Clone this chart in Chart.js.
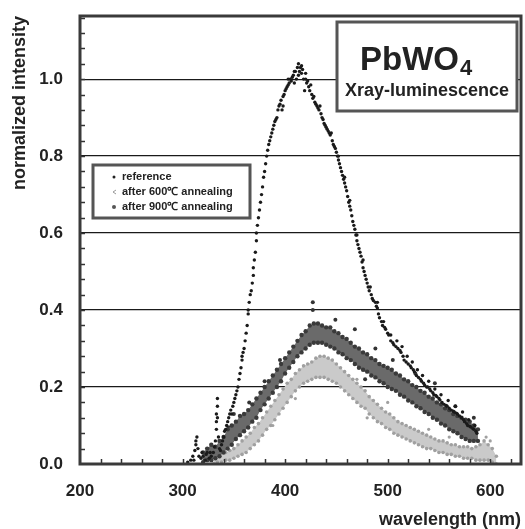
<!DOCTYPE html>
<html>
<head>
<meta charset="utf-8">
<script src="https://cdn.jsdelivr.net/npm/chart.js@4.4.1/dist/chart.umd.min.js"></script>
<style>
html, body { margin: 0; padding: 0; background: #fff; }
</style>
</head>
<body>
<canvas id="chart" width="525" height="529"></canvas>
<script>
const FONT = '"Liberation Sans", Arial, sans-serif';

const seriesLabels = ['reference', 'after 600\u2103 annealing', 'after 900\u2103 annealing'];
const xTickValues = [200, 300, 400, 500, 600];
const yTickValues = [0.0, 0.2, 0.4, 0.6, 0.8, 1.0];

// reference sample, read point by point [nm, intensity]
const refPoints = [
    [305,0.005],[308,0.01],[310,0.02],[311,0.01],[312,0.035],[313,0.06],[313,0.05],[314,0.07],[315,0.04],[316,0.02],
    [318,0.015],[319,0.03],[320,0.02],[322,0.01],[323,0.025],[324,0.03],[326,0.015],[327,0.03],[328,0.02],[330,0.03],
    [331,0.045],[332,0.06],[333,0.09],[333,0.11],[333,0.13],[334,0.15],[334,0.17],[334,0.12],[335,0.07],[336,0.04],
    [337,0.035],[338,0.05],[339,0.06],[340,0.07],[341,0.085],[342,0.09],[343,0.10],[344,0.11],[345,0.12],[346,0.13],
    [347,0.14],[348,0.13],[349,0.15],[350,0.16],[351,0.17],[352,0.18],[353,0.19],[354,0.20],[355,0.22],[356,0.235],
    [357,0.25],[358,0.27],[358,0.28],[359,0.29],[360,0.30],[361,0.32],[362,0.34],[363,0.36],[364,0.39],[364,0.40],
    [365,0.42],[366,0.44],[367,0.45],[368,0.47],[369,0.49],[369,0.51],[370,0.53],[371,0.55],[372,0.58],[372,0.60],
    [373,0.62],[374,0.64],[375,0.66],[376,0.68],[377,0.70],[378,0.72],[379,0.745],[380,0.76],[381,0.78],[382,0.80],
    [383,0.815],[384,0.83],[385,0.84],[386,0.85],[387,0.86],[388,0.87],[389,0.88],[390,0.89],[391,0.895],[392,0.90],
    [393,0.92],[394,0.93],[395,0.935],[396,0.945],[397,0.92],[398,0.955],[399,0.96],[400,0.97],[401,0.975],[402,0.98],
    [403,0.985],[404,0.99],[405,1.0],[406,0.995],[407,1.005],[408,1.01],[409,0.99],[410,1.02],[411,1.0],[412,1.03],
    [413,1.04],[413,1.01],[414,1.02],[415,1.03],[416,1.015],[417,1.025],[418,1.0],[419,0.97],[420,1.0],[421,0.99],
    [422,0.995],[423,0.98],[424,0.97],[425,0.985],[426,0.96],[427,0.95],[428,0.955],[429,0.94],[430,0.935],[431,0.93],
    [432,0.925],[433,0.92],[434,0.93],[435,0.91],[436,0.90],[437,0.895],[438,0.885],[439,0.88],[440,0.875],[441,0.87],
    [442,0.865],[443,0.86],[444,0.855],[445,0.86],[446,0.84],[447,0.83],[448,0.825],[449,0.82],[450,0.81],[451,0.80],
    [452,0.79],[453,0.78],[454,0.77],[455,0.76],[456,0.75],[457,0.74],[458,0.73],[459,0.72],[460,0.71],[461,0.695],
    [462,0.68],[463,0.67],[464,0.66],[465,0.645],[466,0.63],[467,0.62],[468,0.61],[469,0.595],[470,0.58],[471,0.57],
    [472,0.56],[473,0.55],[474,0.54],[475,0.525],[476,0.51],[477,0.50],[478,0.49],[479,0.48],[480,0.47],[481,0.46],
    [482,0.45],[484,0.44],[485,0.43],[486,0.425],[488,0.42],[489,0.41],[490,0.405],[491,0.39],[492,0.38],[494,0.37],
    [495,0.36],[497,0.355],[498,0.35],[500,0.34],[501,0.335],[503,0.32],[505,0.315],[506,0.31],[508,0.305],[510,0.30],
    [512,0.295],[513,0.29],[515,0.28],[516,0.27],[518,0.265],[520,0.26],[522,0.255],[523,0.25],[525,0.245],[526,0.24],
    [528,0.23],[530,0.225],[532,0.22],[533,0.215],[535,0.21],[536,0.205],[538,0.20],[539,0.20],[541,0.195],[542,0.19],
    [544,0.185],[545,0.18],[547,0.178],[548,0.175],[550,0.17],[551,0.166],[553,0.16],[555,0.155],[557,0.152],[558,0.15],
    [560,0.145],[562,0.14],[564,0.137],[565,0.135],[567,0.132],[568,0.13],[570,0.125],[572,0.12],[574,0.115],[575,0.11],
    [577,0.105],[578,0.10],[580,0.098],[581,0.096],[583,0.092],[584,0.09],[586,0.085],[587,0.08],
    // scatter around the falling edge
    [452,0.80],[458,0.745],[463,0.685],[470,0.595],[476,0.53],[483,0.46],[490,0.42],[496,0.37],[503,0.335],[509,0.32],
    [514,0.305],[519,0.28],[524,0.265],[529,0.245],[534,0.23],[540,0.215],[546,0.195],[552,0.18],[559,0.165],[566,0.15],
    [573,0.135],[579,0.115],[585,0.10],[420,1.015],[416,1.035],[409,1.02],[403,1.0],[398,0.93]
];

// after 900C: dense band, lower and upper edge read every 4 nm
const band900Nm = [320,324,328,332,336,340,344,348,352,356,360,364,368,372,376,380,384,388,392,396,
    400,404,408,412,416,420,424,428,432,436,440,444,448,452,456,460,464,468,472,476,
    480,484,488,492,496,500,504,508,512,516,520,524,528,532,536,540,544,548,552,556,
    560,564,568,572,576,580,584,588];
const band900Low = [0.005,0.01,0.01,0.015,0.02,0.03,0.04,0.05,0.065,0.075,
    0.085,0.095,0.11,0.12,0.14,0.155,0.17,0.185,0.20,0.215,
    0.235,0.25,0.265,0.28,0.29,0.30,0.31,0.315,0.315,0.315,
    0.31,0.305,0.30,0.29,0.285,0.275,0.27,0.26,0.25,0.245,
    0.24,0.23,0.225,0.215,0.21,0.20,0.195,0.19,0.18,0.175,
    0.165,0.16,0.15,0.145,0.135,0.13,0.12,0.115,0.105,0.10,
    0.09,0.085,0.08,0.07,0.065,0.06,0.06,0.06];
const band900High = [0.03,0.04,0.05,0.045,0.06,0.07,0.09,0.10,0.11,0.125,
    0.13,0.14,0.155,0.17,0.185,0.20,0.215,0.23,0.245,0.26,
    0.275,0.29,0.305,0.32,0.335,0.345,0.36,0.365,0.365,0.36,
    0.355,0.355,0.345,0.34,0.33,0.325,0.315,0.305,0.30,0.29,
    0.285,0.275,0.27,0.26,0.255,0.25,0.245,0.235,0.23,0.22,
    0.215,0.205,0.20,0.19,0.185,0.175,0.17,0.16,0.155,0.145,
    0.14,0.13,0.125,0.12,0.115,0.11,0.10,0.09];
const spots900 = [[427,0.42],[427,0.40],[449,0.375],[468,0.35],[488,0.30],[478,0.245],[478,0.22],[505,0.27],
    [527,0.235],[546,0.21],[566,0.15],[584,0.12],[395,0.27],[380,0.215],[350,0.13],[365,0.16],[345,0.095]];

// after 600C: light band
const band600Nm = [330,334,338,342,346,350,354,358,362,366,370,374,378,382,386,390,394,398,402,406,
    410,414,418,422,426,430,434,438,442,446,450,454,458,462,466,470,474,478,482,486,
    490,494,498,502,506,510,514,518,522,526,530,534,538,542,546,550,554,558,562,566,
    570,574,578,582,586,590,594,598,602,606];
const band600Low = [0,0.005,0.005,0.01,0.01,0.015,0.02,0.025,0.03,0.04,
    0.05,0.06,0.075,0.09,0.10,0.115,0.13,0.145,0.16,0.175,
    0.19,0.20,0.21,0.215,0.22,0.225,0.225,0.225,0.22,0.215,
    0.21,0.20,0.19,0.18,0.17,0.16,0.15,0.145,0.13,0.12,
    0.11,0.105,0.095,0.09,0.08,0.075,0.07,0.065,0.06,0.055,
    0.05,0.045,0.04,0.04,0.035,0.03,0.03,0.025,0.025,0.02,
    0.02,0.015,0.015,0.015,0.01,0.01,0.01,0.01,0.005,0];
const band600High = [0.02,0.025,0.03,0.03,0.035,0.04,0.05,0.06,0.07,0.08,
    0.095,0.105,0.12,0.135,0.15,0.165,0.18,0.195,0.21,0.22,
    0.235,0.245,0.255,0.26,0.265,0.275,0.28,0.28,0.275,0.27,
    0.26,0.25,0.24,0.23,0.22,0.21,0.20,0.19,0.175,0.165,
    0.155,0.145,0.135,0.13,0.12,0.11,0.105,0.10,0.095,0.09,
    0.085,0.08,0.075,0.07,0.065,0.06,0.06,0.055,0.05,0.05,
    0.045,0.045,0.045,0.04,0.045,0.05,0.06,0.05,0.04,0.02];
const spots600 = [[596,0.07],[600,0.06],[590,0.035],[470,0.22],[500,0.16],[540,0.09],[560,0.07],[480,0.12],[388,0.10],[410,0.17]];

function zip(xs, ys) {
    const out = [];
    for (let i = 0; i < xs.length; i++) {
        out.push({ x: xs[i], y: ys[i] });
    }
    return out;
}

function pairs(list) {
    return list.map(function(p) { return { x: p[0], y: p[1] }; });
}

const decor = {
    id: 'decor',
    afterDraw(chart) {
        const ctx = chart.ctx;
        const area = chart.chartArea;
        const xs = chart.scales.x;
        const ys = chart.scales.y;
        ctx.save();

        // small inward ticks
        ctx.strokeStyle = '#333';
        ctx.lineWidth = 1.5;
        for (let i = 1; i * 0.04 < ys.max; i++) {
            const py = Math.round(ys.getPixelForValue(i * 0.04)) + 0.5;
            ctx.beginPath();
            ctx.moveTo(area.left, py);
            ctx.lineTo(area.left + 5, py);
            ctx.stroke();
        }
        for (let v = 220; v < xs.max; v += 20) {
            const px = Math.round(xs.getPixelForValue(v)) + 0.5;
            ctx.beginPath();
            ctx.moveTo(px, area.bottom);
            ctx.lineTo(px, area.bottom - 5);
            ctx.stroke();
        }

        // plot frame
        ctx.strokeStyle = '#3a3a3a';
        ctx.lineWidth = 3;
        ctx.strokeRect(area.left, area.top, area.right - area.left, area.bottom - area.top);

        // legend box
        ctx.fillStyle = '#fff';
        ctx.fillRect(93, 165, 157, 53);
        ctx.strokeStyle = '#555';
        ctx.lineWidth = 3;
        ctx.strokeRect(93, 165, 157, 53);
        ctx.font = 'bold 11px ' + FONT;
        ctx.textBaseline = 'middle';
        ctx.textAlign = 'left';
        const rowY = [177, 192, 207];
        for (let i = 0; i < seriesLabels.length; i++) {
            ctx.fillStyle = '#222';
            ctx.fillText(seriesLabels[i], 122, rowY[i]);
        }
        ctx.fillStyle = '#222';
        ctx.beginPath(); ctx.arc(114, rowY[0], 1.5, 0, Math.PI * 2); ctx.fill();
        ctx.strokeStyle = '#999';
        ctx.lineWidth = 1;
        ctx.beginPath(); ctx.moveTo(116, rowY[1] - 2); ctx.lineTo(113, rowY[1]); ctx.lineTo(116, rowY[1] + 2); ctx.stroke();
        ctx.fillStyle = '#555';
        ctx.beginPath(); ctx.arc(114, rowY[2], 2, 0, Math.PI * 2); ctx.fill();

        // title box
        ctx.fillStyle = '#fff';
        ctx.fillRect(337, 22, 180, 89);
        ctx.strokeStyle = '#555';
        ctx.lineWidth = 3;
        ctx.strokeRect(337, 22, 180, 89);
        ctx.fillStyle = '#222';
        ctx.textBaseline = 'alphabetic';
        ctx.font = 'bold 33px ' + FONT;
        ctx.fillText('PbWO', 360, 70);
        const w = ctx.measureText('PbWO').width;
        ctx.font = 'bold 22px ' + FONT;
        ctx.fillText('4', 360 + w + 1, 75);
        ctx.font = 'bold 18px ' + FONT;
        ctx.textAlign = 'center';
        ctx.fillText('Xray-luminescence', 427, 96);

        ctx.restore();
    }
};

const tickFont = { family: FONT, size: 17, weight: 'bold' };
const titleFont = { family: FONT, size: 18, weight: 'bold', lineHeight: 1 };

new Chart(document.getElementById('chart'), {
    type: 'scatter',
    data: {
        datasets: [
            { label: seriesLabels[1], data: zip(band600Nm, band600Low), showLine: true, borderWidth: 0, borderColor: 'rgba(0,0,0,0)',
              pointRadius: 1.8, pointBackgroundColor: '#a0a0a0', pointBorderWidth: 0, fill: false, order: 3 },
            { label: seriesLabels[1], data: zip(band600Nm, band600High), showLine: true, borderWidth: 0, borderColor: 'rgba(0,0,0,0)',
              backgroundColor: '#cacaca', pointRadius: 1.8, pointBackgroundColor: '#a0a0a0', pointBorderWidth: 0, fill: '-1', order: 3 },
            { label: seriesLabels[1], data: pairs(spots600), pointRadius: 1.6, pointBackgroundColor: '#a0a0a0', pointBorderWidth: 0, order: 3 },
            { label: seriesLabels[2], data: zip(band900Nm, band900Low), showLine: true, borderWidth: 0, borderColor: 'rgba(0,0,0,0)',
              pointRadius: 2.2, pointBackgroundColor: '#3a3a3a', pointBorderWidth: 0, fill: false, order: 2 },
            { label: seriesLabels[2], data: zip(band900Nm, band900High), showLine: true, borderWidth: 0, borderColor: 'rgba(0,0,0,0)',
              backgroundColor: '#6a6a6a', pointRadius: 2.2, pointBackgroundColor: '#3a3a3a', pointBorderWidth: 0, fill: '-1', order: 2 },
            { label: seriesLabels[2], data: pairs(spots900), pointRadius: 2, pointBackgroundColor: '#333', pointBorderWidth: 0, order: 2 },
            { label: seriesLabels[0], data: pairs(refPoints), pointRadius: 1.7, pointBackgroundColor: '#1a1a1a', pointBorderWidth: 0, order: 1 }
        ]
    },
    options: {
        responsive: false,
        animation: false,
        layout: { padding: { top: 16, right: 3, left: 0, bottom: 0 } },
        plugins: { legend: { display: false }, tooltip: { enabled: false } },
        scales: {
            x: {
                type: 'linear', min: 200, max: 630,
                border: { display: false },
                grid: { display: false, drawTicks: false },
                afterBuildTicks: function(scale) { scale.ticks = xTickValues.map(function(v) { return { value: v }; }); },
                ticks: { padding: 17, color: '#222', font: tickFont, maxRotation: 0 },
                title: { display: true, text: 'wavelength (nm)', align: 'end', color: '#222', font: titleFont, padding: { top: 0, bottom: 0 } },
                afterFit: function(scale) { scale.height = 65; scale.paddingLeft = 0; scale.paddingRight = 0; }
            },
            y: {
                type: 'linear', min: 0, max: 1.164,
                border: { display: false },
                grid: {
                    drawTicks: false, lineWidth: 1.2,
                    color: function(c) { return c.tick && c.tick.value === 0 ? 'rgba(0,0,0,0)' : '#1a1a1a'; }
                },
                afterBuildTicks: function(scale) { scale.ticks = yTickValues.map(function(v) { return { value: v }; }); },
                ticks: { padding: 17, color: '#222', font: tickFont, callback: function(v) { return Number(v).toFixed(1); } },
                title: { display: true, text: 'normalized intensity', align: 'end', color: '#222', font: titleFont, padding: { top: 11, bottom: 0 } },
                afterFit: function(scale) { scale.width = 80; scale.paddingTop = 0; scale.paddingBottom = 0; }
            }
        }
    },
    plugins: [decor]
});
</script>
</body>
</html>
